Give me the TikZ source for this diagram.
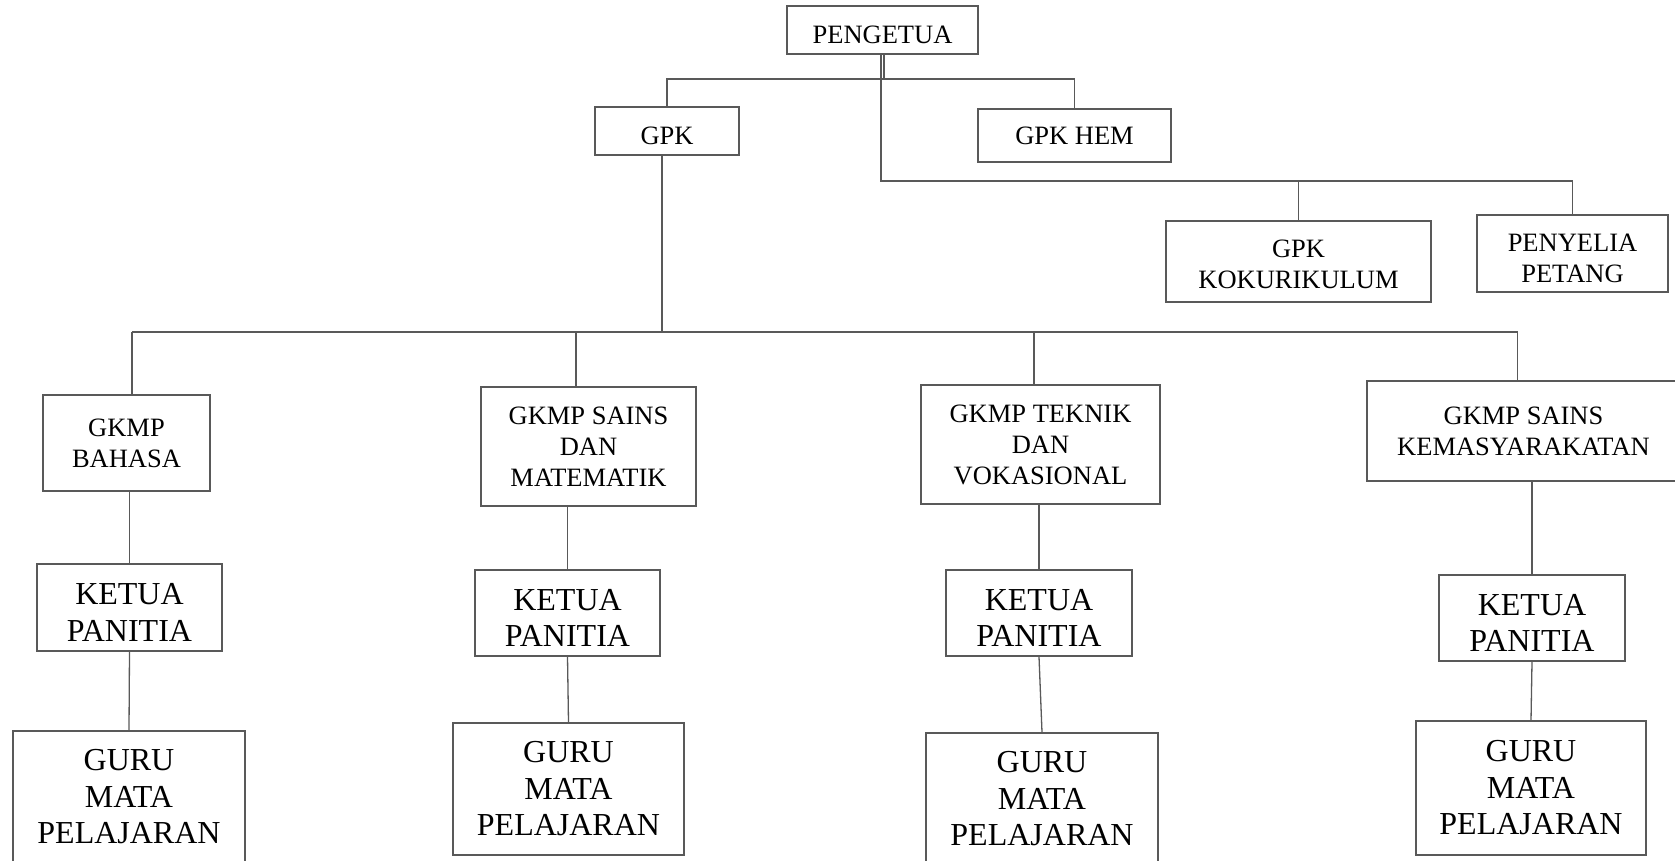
\documentclass[tikz,border=0pt]{standalone}
\usepackage{fontspec}
\setmainfont{Liberation Serif}
% invisible strut on a first line: pushes the text block down inside its box
\newcommand\lowr[1]{\rule{0pt}{#1pt}}
\begin{document}
\begin{tikzpicture}[x=1pt,y=-1pt,
  line/.style={draw=black!65,line width=1.3pt},
  unit/.style={line,fill=white,inner sep=0pt,align=center,
    font=\fontsize{26.5}{31}\selectfont},
  bigunit/.style={unit,font=\fontsize{32}{36.5}\selectfont}]
\useasboundingbox (0,0) rectangle (1675,861);
\begin{scope}
\clip (0,0) rectangle (1675,861);

% top management
\node[unit,minimum width=191,minimum height=48] (peng) at (882.5,30) {\lowr{28}PENGETUA};
\node[unit,minimum width=144,minimum height=48] (gpk) at (667,131) {\lowr{28}GPK};
\node[unit,minimum width=193,minimum height=53] (hem) at (1074.5,135.5) {GPK\ HEM};
\node[unit,minimum width=265,minimum height=81] (kok) at (1298.5,261.5) {\lowr{24}GPK\\KOKURIKULUM};
\node[unit,minimum width=191,minimum height=77] (pen) at (1572.5,253.5) {\lowr{27}PENYELIA\\PETANG};

% subject heads
\node[unit,minimum width=167,minimum height=96] (gk1) at (126.5,443) {GKMP\\BAHASA};
\node[unit,minimum width=215,minimum height=119] (gk2) at (588.5,446.5) {GKMP\ SAINS\\DAN\\MATEMATIK};
\node[unit,minimum width=239,minimum height=119] (gk3) at (1040.5,444.5) {GKMP\ TEKNIK\\DAN\\VOKASIONAL};
\node[unit,minimum width=313,minimum height=100] (gk4) at (1523.5,431) {GKMP\ SAINS\\KEMASYARAKATAN};

% committee heads
\node[bigunit,minimum width=185,minimum height=87] (kp1) at (129.5,607.5) {\lowr{31}KETUA\\PANITIA};
\node[bigunit,minimum width=185,minimum height=86] (kp2) at (567.5,613) {\lowr{31}KETUA\\PANITIA};
\node[bigunit,minimum width=186,minimum height=86] (kp3) at (1039,613) {\lowr{31}KETUA\\PANITIA};
\node[bigunit,minimum width=186,minimum height=86] (kp4) at (1532,618) {\lowr{31}KETUA\\PANITIA};

% teachers
\node[bigunit,minimum width=232,minimum height=132] (gm1) at (129,797) {GURU\\MATA\\PELAJARAN};
\node[bigunit,minimum width=231,minimum height=132] (gm2) at (568.5,789) {GURU\\MATA\\PELAJARAN};
\node[bigunit,minimum width=232,minimum height=132] (gm3) at (1042,799) {GURU\\MATA\\PELAJARAN};
\node[bigunit,minimum width=230,minimum height=134] (gm4) at (1531,788) {GURU\\MATA\\PELAJARAN};

% bus levels
\coordinate (busA) at (0,79);
\coordinate (busB) at (0,181);
\coordinate (busC) at (0,332);

% principal to deputies
\draw[line] ([xshift=1.5]peng.south) -- ([xshift=1.5]peng.south |- busA) -| (gpk.north);
\draw[line] ([xshift=1.5]peng.south |- busA) -| (hem.north);
\draw[line] ([xshift=-1.5]peng.south) |- (pen.north |- busB) -- (pen.north);
\draw[line] (kok.north |- busB) -- (kok.north);

% deputy to subject heads
\draw[line] ([xshift=-5]gpk.south) -- ([xshift=-5]gpk.south |- busC);
\draw[line] ([xshift=5.5]gk1.north |- busC) -- ([xshift=-6]gk4.north |- busC);
\draw[line] ([xshift=5.5]gk1.north |- busC) -- ([xshift=5.5]gk1.north);
\draw[line] ([xshift=-12.5]gk2.north |- busC) -- ([xshift=-12.5]gk2.north);
\draw[line] ([xshift=-6.5]gk3.north |- busC) -- ([xshift=-6.5]gk3.north);
\draw[line] ([xshift=-6]gk4.north |- busC) -- ([xshift=-6]gk4.north);

% subject heads down to teachers
\draw[line] (kp1.north |- gk1.south) -- (kp1.north);
\draw[line] (kp2.north |- gk2.south) -- (kp2.north);
\draw[line] (kp3.north |- gk3.south) -- (kp3.north);
\draw[line] (kp4.north |- gk4.south) -- (kp4.north);
\draw[line] (kp1.south) -- (gm1.north);
\draw[line] (kp2.south) -- (gm2.north);
\draw[line] (kp3.south) -- (gm3.north);
\draw[line] (kp4.south) -- (gm4.north);
\end{scope}
\end{tikzpicture}
\end{document}
